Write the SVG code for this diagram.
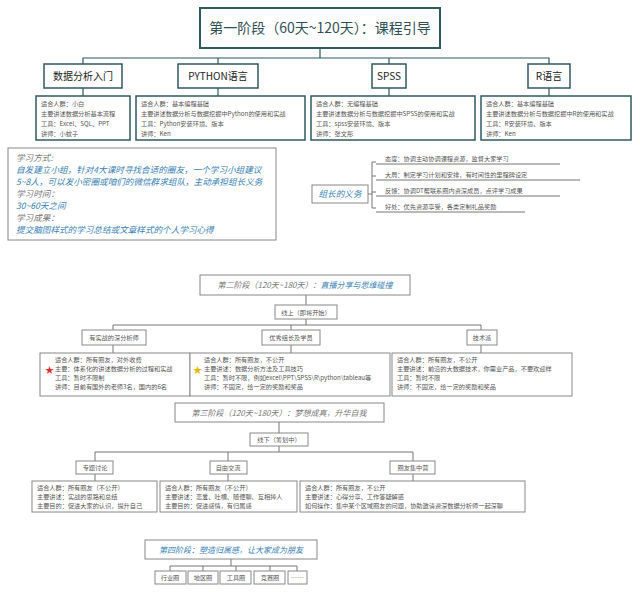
<svg xmlns="http://www.w3.org/2000/svg" width="640" height="592" viewBox="0 0 640 592">
<style>
text{font-family:"Noto Sans CJK SC","Liberation Sans",sans-serif;fill:#555}
.t1{fill:#2f4f57;font-size:14px}
.b1{fill:#fff;stroke:#2f5963;stroke-width:2}
.b2{fill:#fff;stroke:#2f5963;stroke-width:1.5}
.g{fill:#fff;stroke:#888;stroke-width:1}
.l1{font-size:10px;fill:#222}
.s{font-size:6.2px;fill:#555}
.bl{font-size:8.6px;fill:#3a7fb5;font-style:italic}
.gi{font-size:8.6px;fill:#777;font-style:italic}
.st{font-size:8px;fill:#777;font-style:italic}
.c{stroke:#777;fill:none;stroke-width:1}
.cd{stroke:#2f5963;fill:none;stroke-width:1.2}
</style>
<rect width="640" height="592" fill="#fff"/>
<g id="connectors">
<path class="cd" d="M320 48V58M83 64V58H549V64M218 58V64M389 58V64M549 58V64M83 88V96M218 88V96M389 88V96M549 88V96"/>
<path class="c" d="M368 194H372M372 162V208M372 162H376M372 176H376M372 192H376M372 208H376"/>
<path class="c" d="M376 164H560M376 180H580M376 196H560M376 212H525"/>
<path class="c" d="M306 295V305M306 319V325M113 330V325H481V330M291 325V330M113 345V353M291 345V353M481 345V353"/>
<path class="c" d="M279 422V433M279 446V452M95 461V452H413V461M228 452V461M95 474V481M228 474V481M413 474V481"/>
<path class="c" d="M231 559V566M170 571V566H297V571M203 566V571M236 566V571M270 566V571"/>
</g>
<g id="stage1"><rect class="b1" x="200" y="8" width="240" height="40"/><text class="t1" x="320" y="33" text-anchor="middle">第一阶段（60天~120天）：课程引导</text></g>
<g id="n1"><rect class="b2" x="44" y="64" width="78" height="24"/><text class="l1" x="83" y="80" text-anchor="middle">数据分析入门</text></g>
<g id="n2"><rect class="b2" x="178" y="64" width="80" height="24"/><text class="l1" x="218" y="80" text-anchor="middle">PYTHON语言</text></g>
<g id="n3"><rect class="b2" x="372" y="64" width="34" height="24"/><text class="l1" x="389" y="80" text-anchor="middle">SPSS</text></g>
<g id="n4"><rect class="b2" x="528" y="64" width="42" height="24"/><text class="l1" x="549" y="80" text-anchor="middle">R语言</text></g>
<g id="d1"><rect class="b2" x="36" y="96" width="94" height="44"/><text class="s" x="41" y="106">适合人群：小白</text><text class="s" x="41" y="116">主要讲述数据分析基本流程</text><text class="s" x="41" y="126">工具：Excel、SQL、PPT</text><text class="s" x="41" y="136">讲师：小蚊子</text></g>
<g id="d2"><rect class="b2" x="136" y="96" width="169" height="44"/><text class="s" x="141" y="106">适合人群：基本编程基础</text><text class="s" x="141" y="116">主要讲述数据分析与数据挖掘中Python的使用和实战</text><text class="s" x="141" y="126">工具：Python安装环境、版本</text><text class="s" x="141" y="136">讲师：Ken</text></g>
<g id="d3"><rect class="b2" x="311" y="96" width="164" height="44"/><text class="s" x="316" y="106">适合人群：无编程基础</text><text class="s" x="316" y="116">主要讲述数据分析与数据挖掘中SPSS的使用和实战</text><text class="s" x="316" y="126">工具：spss安装环境、版本</text><text class="s" x="316" y="136">讲师：张文彤</text></g>
<g id="d4"><rect class="b2" x="481" y="96" width="150" height="44"/><text class="s" x="486" y="106">适合人群：基本编程基础</text><text class="s" x="486" y="116">主要讲述数据分析与数据挖掘中R的使用和实战</text><text class="s" x="486" y="126">工具：R安装环境、版本</text><text class="s" x="486" y="136">讲师：Ken</text></g>
<g id="study"><rect class="g" x="8" y="148" width="268" height="92"/>
<text class="gi" x="16" y="161">学习方式:</text>
<text class="bl" x="16" y="173">自发建立小组，针对4大课时寻找合适的圈友，一个学习小组建议</text>
<text class="bl" x="16" y="185">5~8人，可以发小密圈或咱们的微信群求组队，主动承担组长义务</text>
<text class="gi" x="16" y="197">学习时间：</text>
<text class="bl" x="16" y="209">30~60天之间</text>
<text class="gi" x="16" y="221">学习成果：</text>
<text class="bl" x="16" y="233">提交脑图样式的学习总结或文章样式的个人学习心得</text></g>
<g id="leader"><rect class="g" x="312" y="185" width="56" height="18"/><text class="bl" x="340" y="197" text-anchor="middle">组长的义务</text>
<text class="s" x="385" y="161">态度：协调主动协调课程资源，监督大家学习</text>
<text class="s" x="385" y="177">大局：制定学习计划和安排，有时间性的里程碑设定</text>
<text class="s" x="385" y="193">反馈：协调DT帮联系圈内资深成员，点评学习成果</text>
<text class="s" x="385" y="209">好处：优先资源享受，各类定制礼品奖励</text></g>
<g id="stage2"><rect class="g" x="200" y="275" width="210" height="20"/><text class="st" x="305" y="288" text-anchor="middle">第二阶段（120天~180天）：<tspan style="fill:#3a7fb5">直播分享与思维碰撞</tspan></text></g>
<g id="online"><rect class="g" x="275" y="305" width="62" height="14"/><text class="s" x="306" y="315" text-anchor="middle">线上（即将开始）</text></g>
<g id="s2a"><rect class="g" x="82" y="330" width="64" height="15"/><text class="s" x="114" y="340" text-anchor="middle">有实战的深分析师</text></g>
<g id="s2b"><rect class="g" x="262" y="330" width="58" height="15"/><text class="s" x="291" y="340" text-anchor="middle">优秀组长及学员</text></g>
<g id="s2c"><rect class="g" x="467" y="330" width="30" height="15"/><text class="s" x="482" y="340" text-anchor="middle">技术派</text></g>
<g id="s2ad"><rect class="g" x="40" y="353" width="150" height="43"/><text x="45" y="373" font-size="9" style="fill:#d33">★</text><text class="s" x="55" y="362">适合人群：所有圈友，对外收费</text><text class="s" x="55" y="371">主要：体系化的讲述数据分析的过程和实战</text><text class="s" x="55" y="380">工具：暂时不限制</text><text class="s" x="55" y="389">讲师：目前有国外的老师3名，国内的6名</text></g>
<g id="s2bd"><rect class="g" x="190" y="353" width="200" height="43"/><text x="193" y="373" font-size="9" style="fill:#e6b800">★</text><text class="s" x="204" y="362">适合人群：所有圈友，不公开</text><text class="s" x="204" y="371">主要讲述：数据分析方法及工具技巧</text><text class="s" x="204" y="380">工具：暂时不限，例如excel\PPT\SPSS\R\python\tableau等</text><text class="s" x="204" y="389">讲师：不固定，给一定的奖励和奖品</text></g>
<g id="s2cd"><rect class="g" x="392" y="353" width="180" height="43"/><text class="s" x="397" y="362">适合人群：所有圈友，不公开</text><text class="s" x="397" y="371">主要讲述：前沿的大数据技术，你需业产品，不要欢迎样</text><text class="s" x="397" y="380">工具：暂时不限</text><text class="s" x="397" y="389">讲师：不固定，给一定的奖励和奖品</text></g>
<g id="stage3"><rect class="g" x="175" y="403" width="209" height="19"/><text class="st" x="279" y="416" text-anchor="middle">第三阶段（120天~180天）：梦想成真，升华自我</text></g>
<g id="offline"><rect class="g" x="250" y="433" width="58" height="13"/><text class="s" x="279" y="442" text-anchor="middle">线下（筹划中）</text></g>
<g id="s3a"><rect class="g" x="76" y="461" width="37" height="13"/><text class="s" x="95" y="470" text-anchor="middle">专题讨论</text></g>
<g id="s3b"><rect class="g" x="210" y="461" width="37" height="13"/><text class="s" x="228" y="470" text-anchor="middle">自由交流</text></g>
<g id="s3c"><rect class="g" x="390" y="461" width="45" height="13"/><text class="s" x="413" y="470" text-anchor="middle">圈友集中营</text></g>
<g id="s3ad"><rect class="g" x="32" y="481" width="125" height="31"/><text class="s" x="37" y="490">适合人群：所有圈友（不公开）</text><text class="s" x="37" y="499">主要讲述：实战的思路和总结</text><text class="s" x="37" y="508">主要目的：促进大家的认识，提升自己</text></g>
<g id="s3bd"><rect class="g" x="160" y="481" width="137" height="31"/><text class="s" x="165" y="490">适合人群：所有圈友（不公开）</text><text class="s" x="165" y="499">主要讲述：恋爱、吐槽、随便聊、互相捧人</text><text class="s" x="165" y="508">主要目的：促进感情，有归属感</text></g>
<g id="s3cd"><rect class="g" x="300" y="481" width="225" height="31"/><text class="s" x="305" y="490">适合人群：所有圈友，不公开</text><text class="s" x="305" y="499">主要讲述：心得分享、工作答疑解惑</text><text class="s" x="305" y="508">如何操作：集中某个区域圈友的问题，协助邀请资深数据分析师一起深聊</text></g>
<g id="stage4"><rect class="g" x="145" y="540" width="172" height="19"/><text class="st" x="231" y="553" text-anchor="middle" style="fill:#3a7fb5">第四阶段：塑造归属感，让大家成为朋友</text></g>
<g id="c1"><rect class="g" x="155" y="571" width="31" height="13"/><text class="s" x="170" y="580" text-anchor="middle">行业圈</text></g>
<g id="c2"><rect class="g" x="188" y="571" width="30" height="13"/><text class="s" x="203" y="580" text-anchor="middle">地区圈</text></g>
<g id="c3"><rect class="g" x="220" y="571" width="31" height="13"/><text class="s" x="236" y="580" text-anchor="middle">工具圈</text></g>
<g id="c4"><rect class="g" x="254" y="571" width="31" height="13"/><text class="s" x="270" y="580" text-anchor="middle">竞赛圈</text></g>
<g id="c5"><rect class="g" x="288" y="571" width="19" height="13"/><text class="s" x="297" y="580" text-anchor="middle">……</text></g>
</svg>
